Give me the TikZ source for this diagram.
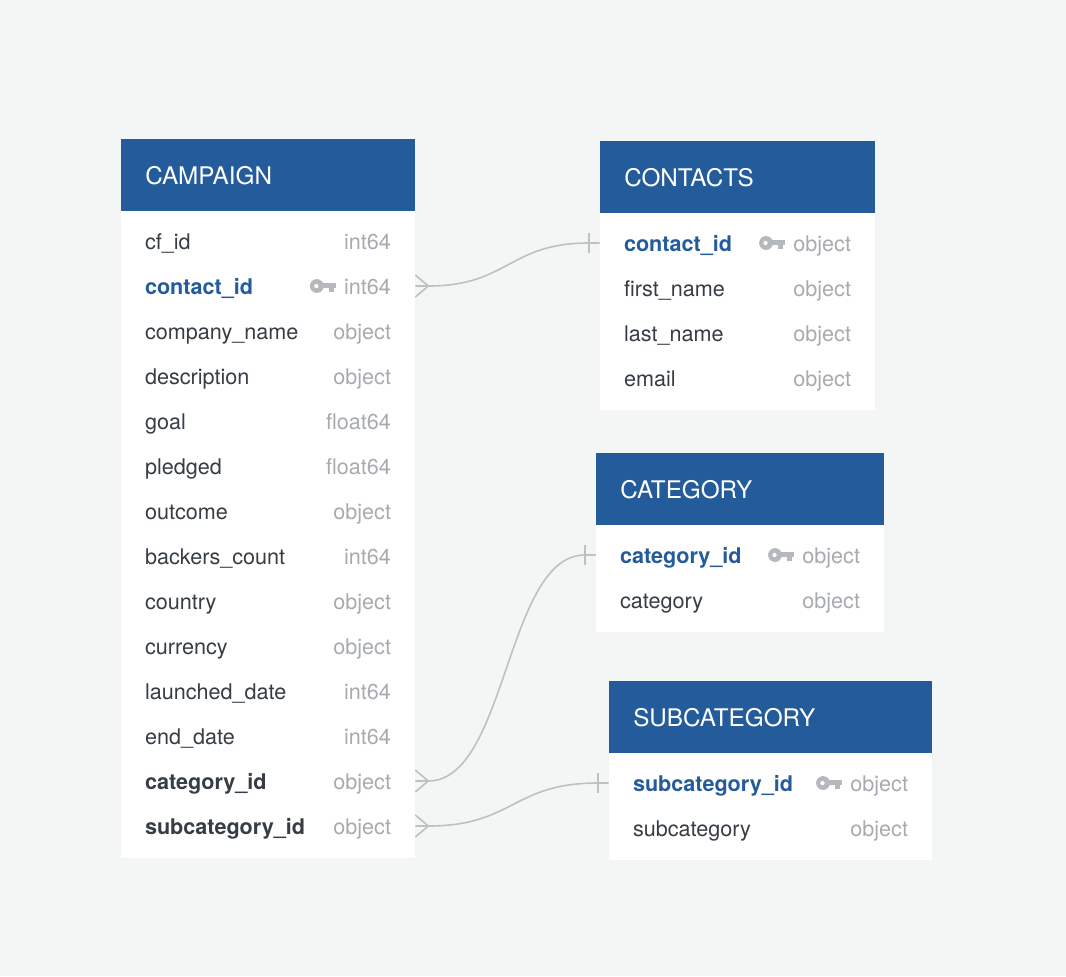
\documentclass[tikz,border=0pt]{standalone}
\usepackage{fontspec}
\setmainfont{TeX Gyre Heros}
\usetikzlibrary{positioning}

\definecolor{bgpage}{HTML}{F4F5F5}
\definecolor{hdrblue}{HTML}{235B9B}
\definecolor{fldtext}{HTML}{363D44}
\definecolor{typtext}{HTML}{A7ABAF}
\definecolor{keygrey}{HTML}{B5B9BE}
\definecolor{linkgrey}{HTML}{C0C0C0}

\tikzset{
  hdr/.style={rectangle, fill=hdrblue, minimum height=54pt, anchor=north west, inner sep=0pt},
  tblname/.style={anchor=west, inner sep=0pt, text=white, font=\fontsize{18.2}{21}\selectfont},
  body/.style={rectangle, fill=white, anchor=north west, inner sep=0pt},
  row/.style={rectangle, minimum height=33.75pt, inner sep=0pt},
  fname/.style={anchor=base west, inner sep=0pt, text=fldtext, font=\fontsize{16.2}{19}\selectfont},
  nk/.style={},
  pk/.style={text=hdrblue, font=\fontsize{16.2}{19}\selectfont\bfseries},
  fk/.style={font=\fontsize{16.2}{19}\selectfont\bfseries},
  ftype/.style={anchor=base east, inner sep=0pt, text=typtext, font=\fontsize{16.2}{19}\selectfont},
  link/.style={draw=linkgrey, line width=1.2pt},
  pkey/.pic={
    \fill[keygrey] (5.2pt,0pt) circle (5.2pt);
    \fill[white] (4.8pt,0pt) circle (1.6pt);
    \fill[keygrey] (8.5pt,2.2pt) rectangle (19.5pt,-1.6pt);
    \fill[keygrey] (14.5pt,-1.6pt) rectangle (18.2pt,-4.6pt);
  }
}

\begin{document}
\begin{tikzpicture}[x=0.75pt, y=-0.75pt]
   \fill[bgpage] (0,0) rectangle (1066,976);

   % CAMPAIGN
   \node[hdr, minimum width=220.5pt] (campaign) at (121,139) {};
   \node[tblname] at ([xshift=18pt]campaign.west) {CAMPAIGN};
   \node[body, minimum width=220.5pt, minimum height=485.25pt] (campaign-body) at (121,211) {};
   \foreach \n/\t/\s [count=\i] in {cf\_id/int64/nk, contact\_id/int64/pk,
      company\_name/object/nk, description/object/nk, goal/float64/nk,
      pledged/float64/nk, outcome/object/nk, backers\_count/int64/nk,
      country/object/nk, currency/object/nk, launched\_date/int64/nk,
      end\_date/int64/nk, category\_id/object/fk, subcategory\_id/object/fk}{
    \node[row, minimum width=220.5pt] (cmp-\i) at (268,{241+45*(\i-1)}) {};
    \node[fname, \s] at ([xshift=18pt, yshift=-6pt]cmp-\i.west) {\n};
    \node[ftype] (cmp-\i-t) at ([xshift=-18pt, yshift=-6pt]cmp-\i.east) {\t};
   }
   \pic[xshift=-25.5pt] at (cmp-2-t.west |- cmp-2.center) {pkey};

   % CONTACTS
   \node[hdr, minimum width=206.25pt] (contacts) at (600,141) {};
   \node[tblname] at ([xshift=18pt]contacts.west) {CONTACTS};
   \node[body, minimum width=206.25pt, minimum height=147.75pt] (contacts-body) at (600,213) {};
   \foreach \n/\t/\s [count=\i] in {contact\_id/object/pk, first\_name/object/nk,
      last\_name/object/nk, email/object/nk}{
    \node[row, minimum width=206.25pt] (con-\i) at (737.5,{243+45*(\i-1)}) {};
    \node[fname, \s] at ([xshift=18pt, yshift=-6pt]con-\i.west) {\n};
    \node[ftype] (con-\i-t) at ([xshift=-18pt, yshift=-6pt]con-\i.east) {\t};
   }
   \pic[xshift=-25.5pt] at (con-1-t.west |- con-1.center) {pkey};

   % CATEGORY
   \node[hdr, minimum width=216pt] (category) at (596,453) {};
   \node[tblname] at ([xshift=18pt]category.west) {CATEGORY};
   \node[body, minimum width=216pt, minimum height=80.25pt] (category-body) at (596,525) {};
   \foreach \n/\t/\s [count=\i] in {category\_id/object/pk, category/object/nk}{
    \node[row, minimum width=216pt] (cat-\i) at (740,{555+45*(\i-1)}) {};
    \node[fname, \s] at ([xshift=18pt, yshift=-6pt]cat-\i.west) {\n};
    \node[ftype] (cat-\i-t) at ([xshift=-18pt, yshift=-6pt]cat-\i.east) {\t};
   }
   \pic[xshift=-25.5pt] at (cat-1-t.west |- cat-1.center) {pkey};

   % SUBCATEGORY
   \node[hdr, minimum width=242.25pt] (subcategory) at (609,681) {};
   \node[tblname] at ([xshift=18pt]subcategory.west) {SUBCATEGORY};
   \node[body, minimum width=242.25pt, minimum height=80.25pt] (subcategory-body) at (609,753) {};
   \foreach \n/\t/\s [count=\i] in {subcategory\_id/object/pk, subcategory/object/nk}{
    \node[row, minimum width=242.25pt] (sub-\i) at (770.5,{783+45*(\i-1)}) {};
    \node[fname, \s] at ([xshift=18pt, yshift=-6pt]sub-\i.west) {\n};
    \node[ftype] (sub-\i-t) at ([xshift=-18pt, yshift=-6pt]sub-\i.east) {\t};
   }
   \pic[xshift=-25.5pt] at (sub-1-t.west |- sub-1.center) {pkey};

   % relations
   \draw[link] ([yshift=8.25pt]cmp-2.east) -- ([xshift=9.75pt]cmp-2.east) -- ([yshift=-8.25pt]cmp-2.east);
   \draw[link] (cmp-2.east) -- ([xshift=9.75pt]cmp-2.east)
      .. controls +(60pt,0pt) and +(-60pt,0pt) .. ([xshift=-8.25pt]con-1.west) -- (con-1.west);
   \draw[link] ([xshift=-8.25pt, yshift=7.5pt]con-1.west) -- ([xshift=-8.25pt, yshift=-7.5pt]con-1.west);

   \draw[link] ([yshift=8.25pt]cmp-13.east) -- ([xshift=9.75pt]cmp-13.east) -- ([yshift=-8.25pt]cmp-13.east);
   \draw[link] (cmp-13.east) -- ([xshift=9.75pt]cmp-13.east)
      .. controls +(59pt,0pt) and +(-59pt,0pt) .. ([xshift=-8.25pt]cat-1.west) -- (cat-1.west);
   \draw[link] ([xshift=-8.25pt, yshift=7.5pt]cat-1.west) -- ([xshift=-8.25pt, yshift=-7.5pt]cat-1.west);

   \draw[link] ([yshift=8.25pt]cmp-14.east) -- ([xshift=9.75pt]cmp-14.east) -- ([yshift=-8.25pt]cmp-14.east);
   \draw[link] (cmp-14.east) -- ([xshift=9.75pt]cmp-14.east)
      .. controls +(64pt,0pt) and +(-64pt,0pt) .. ([xshift=-8.25pt]sub-1.west) -- (sub-1.west);
   \draw[link] ([xshift=-8.25pt, yshift=7.5pt]sub-1.west) -- ([xshift=-8.25pt, yshift=-7.5pt]sub-1.west);
\end{tikzpicture}
\end{document}
